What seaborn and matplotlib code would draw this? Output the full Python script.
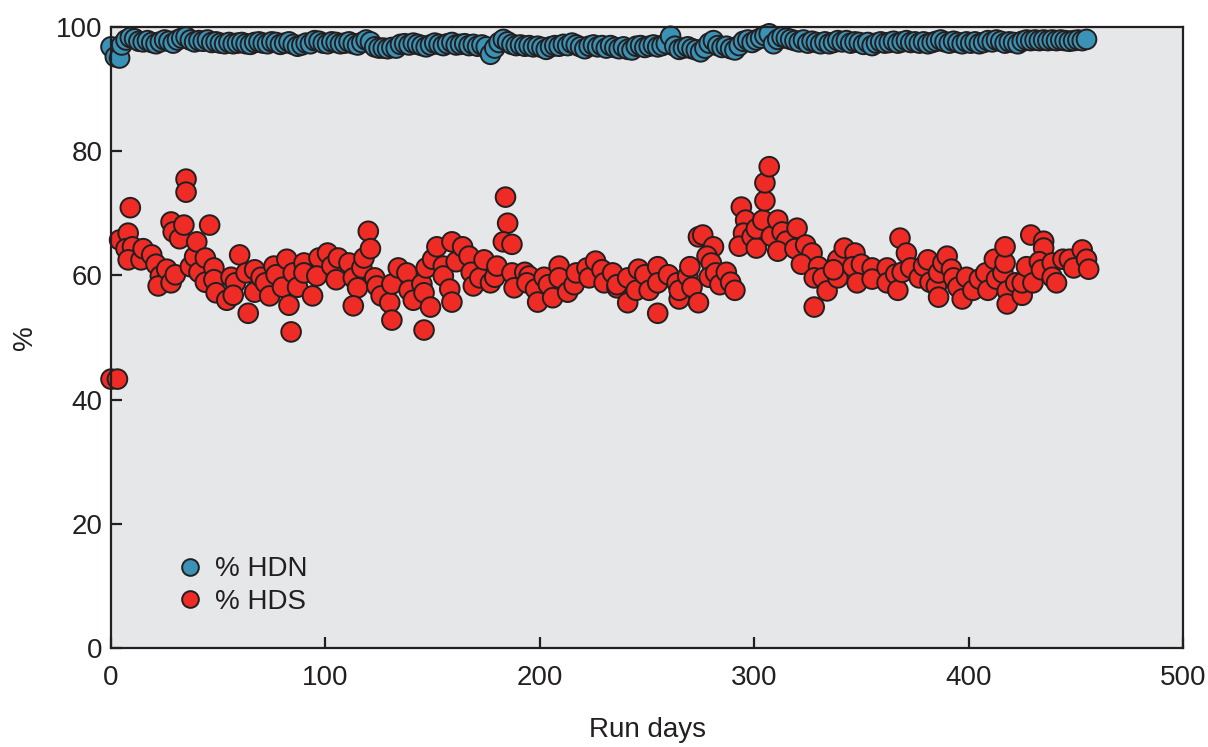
import numpy as np
import pandas as pd
import matplotlib
matplotlib.use("Agg")
import matplotlib.pyplot as plt
import seaborn as sns


# % HDS (run day, %)
hds_day = [0, 3,
           4, 8, 9, 7, 10, 8, 14, 15, 19, 21, 23, 22, 26, 28, 30, 28, 29, 32,
           34, 35, 35, 37, 39, 40, 41, 44, 44, 46, 48, 48, 49, 54, 56, 58, 57,
           60, 63, 64, 67, 67, 70, 72, 74, 76, 77, 80, 82, 83, 84, 85, 87,
           90, 90, 94, 97, 101, 96, 103, 106, 105, 111, 113, 115, 113, 117, 118,
           120, 121, 123, 124, 126, 130, 131, 131, 134, 138, 139, 141, 145, 146,
           146, 149, 147, 150, 152, 155, 155, 158, 159, 159, 161, 164, 167, 168,
           169, 172, 174, 177, 179, 180,
           184, 185, 183, 187, 187, 188, 193, 195, 194, 198, 199, 202, 204, 206,
           209, 209, 213, 216, 217, 222, 223, 226, 229, 230, 234, 236, 236, 241,
           241, 245, 246, 249, 251, 255, 255, 255, 260, 264, 265, 265, 269, 270,
           271, 274, 274,
           276, 281, 278, 280, 279, 282, 284, 287, 289, 291, 294, 296, 295, 293,
           299, 301, 301, 304, 305, 305, 307, 308, 311, 313, 315, 311, 319, 320,
           324, 327, 322, 330, 328, 332, 334, 328, 339, 339, 337, 342, 347, 346,
           350, 348, 355, 355, 362, 362, 366, 367, 368,
           371, 369, 373, 377, 379, 381, 382, 385, 386, 386, 388, 390, 392, 393,
           395, 397, 399, 402, 405, 408, 409, 412, 413, 416, 417, 417, 418, 418,
           422, 425, 425, 427, 430, 429, 435, 435, 433, 434, 439, 439, 441, 444,
           447, 449, 453, 455, 456]
hds_pct = [43.3, 43.3,
           65.7, 66.8, 70.9, 64.3, 64.6, 62.5, 62.5, 64.3, 63.3, 61.8, 59.9, 58.3,
           61.0, 58.8, 60.1, 68.6, 67.0, 65.9, 68.1, 75.5, 73.4, 61.4, 63.0, 65.4,
           60.5, 58.9, 62.8, 68.1, 61.2, 59.3, 57.2, 56.0, 59.7, 58.8, 56.8, 63.3,
           60.4, 53.9, 60.9, 57.3, 59.7, 58.8, 56.7, 61.5, 60.1, 58.1, 62.6, 55.2,
           50.9, 60.4, 58.1,
           62.0, 60.4, 56.7, 62.8, 63.6, 59.9, 61.5, 62.8, 59.3, 62.0, 59.6, 58.0,
           55.1, 61.2, 62.8, 67.1, 64.3, 59.6, 58.3, 56.7, 55.6, 52.8, 58.6, 61.2,
           60.4, 57.6, 56.0, 58.6, 57.2, 51.2, 54.9, 61.2, 62.6, 64.6, 61.5, 59.9,
           57.8, 55.7, 65.4, 62.2, 64.6, 63.1, 60.5, 58.3, 59.6, 62.5, 58.8, 59.7,
           61.5,
           72.6, 68.4, 65.4, 65.0, 60.4, 58.0, 60.5, 59.9, 58.8, 57.8, 55.7, 59.7,
           58.5, 56.4, 61.5, 59.6, 57.3, 58.5, 60.4, 61.2, 59.6, 62.3, 60.9, 58.8,
           60.4, 58.0, 58.5, 59.6, 55.6, 57.6, 61.0, 60.1, 57.6, 61.4, 58.8, 53.9,
           60.1, 58.8, 56.2, 57.6, 59.9, 61.4, 58.1, 55.6, 66.2,
           66.5, 64.6, 63.1, 62.0, 59.7, 60.4, 58.5, 60.5, 58.9, 57.6, 71.0, 68.9,
           66.8, 64.7, 66.2, 64.4, 67.5, 68.9, 72.0, 74.9, 77.5, 66.3, 68.9, 67.0,
           65.5, 63.9, 64.3, 67.6, 64.9, 63.6, 61.8, 61.4, 59.6, 59.6, 57.5, 54.9,
           59.6, 62.5, 60.9, 64.4, 63.6, 61.4, 61.8, 58.8, 61.2, 59.4, 61.2, 58.8,
           60.2, 57.6, 66.0,
           63.6, 60.5, 61.2, 59.6, 61.5, 62.5, 58.9, 58.3, 60.4, 56.5, 62.0, 63.1,
           61.0, 59.6, 58.1, 56.2, 59.7, 57.6, 59.4, 60.4, 57.6, 62.6, 59.4, 60.4,
           62.0, 64.6, 57.5, 55.4, 58.8, 56.8, 58.8, 61.4, 58.8, 66.5, 65.5, 64.4,
           62.2, 60.9, 62.0, 59.7, 58.8, 62.6, 62.6, 61.2, 64.1, 62.6, 61.0]

# % HDN (run day, %)
hdn_day = [0, 2, 4, 5, 7, 9, 11, 13, 15, 17, 19, 21, 23, 25, 27, 29, 31, 33, 35,
           37, 39, 41, 43, 45, 47, 49, 51, 53, 55, 57, 59, 61, 63, 65, 67, 69,
           71, 73, 75, 77, 79, 81, 83, 85, 87, 89, 91, 93, 95, 97, 99, 101, 103,
           105, 107, 109, 111, 113, 115, 117, 119, 121, 123, 125, 127, 129, 131,
           133, 135, 137, 139, 141, 143, 145, 147, 149, 151, 153, 155, 157, 159,
           161, 163, 165, 167, 169, 171, 173, 175, 177, 179, 181, 183, 185, 187,
           189, 191, 193, 195, 197, 199, 201, 203, 205, 207, 209, 211, 213, 215,
           217, 219, 221, 223, 225, 227, 229, 231, 233, 235, 237, 239, 241, 243,
           245, 247, 249, 251, 253, 255, 257, 259, 261, 263, 265, 267, 269, 271,
           273, 275, 277, 279, 281, 283, 285, 287, 289, 291, 293, 295, 297, 299,
           301, 303, 305, 307, 309, 311, 313, 315, 317, 319, 321, 323, 325, 327,
           329, 331, 333, 335, 337, 339, 341, 343, 345, 347, 349, 351, 353, 355,
           357, 359, 361, 363, 365, 367, 369, 371, 373, 375, 377, 379, 381, 383,
           385, 387, 389, 391, 393, 395, 397, 399, 401, 403, 405, 407, 409, 411,
           413, 415, 417, 419, 421, 423, 425, 427, 429, 431, 433, 435, 437, 439,
           441, 443, 445, 447, 449, 451, 453, 455]
hdn_pct = [96.8, 95.2, 95.0, 97.1, 97.9, 98.3, 98.1, 97.7, 97.6, 97.8, 97.5, 97.3,
           97.6, 97.9, 97.7, 97.4, 97.9, 98.2, 98.4, 97.9, 97.6, 97.8, 97.7, 97.9,
           97.5, 97.6, 97.4, 97.3, 97.5, 97.3, 97.4, 97.5, 97.3, 97.2, 97.5, 97.6,
           97.4, 97.3, 97.6, 97.5, 97.2, 97.4, 97.6, 97.2, 96.9, 97.1, 97.4, 97.3,
           97.8, 97.7, 97.4, 97.3, 97.6, 97.5, 97.3, 97.4, 97.6, 97.3, 97.1, 97.5,
           97.9, 97.6, 96.8, 96.6, 96.6, 96.5, 96.7, 96.6, 97.2, 97.3, 97.1, 97.4,
           97.2, 97.0, 96.8, 97.1, 97.4, 97.2, 97.0, 97.3, 97.5, 97.1, 97.2, 97.3,
           97.0, 97.2, 96.9, 97.1, 96.8, 95.6, 96.6, 97.5, 98.0, 97.6, 97.2, 97.0,
           97.1, 96.9, 97.0, 96.8, 96.9, 96.7, 96.4, 96.8, 97.0, 96.9, 97.2, 97.0,
           97.4, 97.1, 96.8, 96.5, 96.9, 97.1, 96.8, 97.0, 96.6, 97.0, 96.7, 96.5,
           96.8, 96.4, 96.3, 96.9, 97.0, 96.7, 96.9, 97.1, 96.8, 97.0, 97.3, 98.5,
           96.9, 96.4, 96.6, 96.8, 96.5, 96.3, 96.0, 96.6, 97.4, 97.8, 97.0, 96.7,
           96.9, 96.5, 96.3, 97.0, 97.7, 97.9, 97.5, 97.9, 98.2, 98.6, 98.9, 97.3,
           98.0, 98.4, 98.2, 98.0, 97.8, 97.6, 97.9, 97.4, 97.7, 97.5, 97.3, 97.6,
           97.3, 97.5, 97.8, 97.6, 97.8, 97.4, 97.6, 97.5, 97.2, 97.5, 97.0, 97.4,
           97.6, 97.4, 97.5, 97.7, 97.4, 97.6, 97.8, 97.5, 97.6, 97.4, 97.6, 97.3,
           97.5, 97.7, 97.9, 97.6, 97.4, 97.7, 97.5, 97.3, 97.6, 97.4, 97.6, 97.3,
           97.5, 97.8, 97.6, 97.9, 97.7, 97.4, 97.6, 97.5, 97.3, 97.7, 97.9, 97.8,
           97.9, 97.8, 97.9, 97.8, 97.9, 97.8, 97.9, 97.8, 97.7, 97.8, 97.9, 97.8,
           98.0]

series_names = ["% HDN", "% HDS"]
colors = {"% HDN": "#3a93b6", "% HDS": "#ee2b25"}

x_ticks = [0, 100, 200, 300, 400, 500]
y_ticks = [0, 20, 40, 60, 80, 100]


df = pd.concat([
    pd.DataFrame({"day": hdn_day, "pct": hdn_pct, "series": "% HDN"}),
    pd.DataFrame({"day": hds_day, "pct": hds_pct, "series": "% HDS"}),
], ignore_index=True)


sns.set_style("white")
plt.rcParams["font.family"] = ["Liberation Sans", "DejaVu Sans"]

fig = plt.figure(figsize=(12.08, 7.47), dpi=100)
ax = fig.add_axes([0.0919, 0.1325, 0.8874, 0.8314])
ax.set_facecolor("#e6e7e9")

sns.scatterplot(data=df, x="day", y="pct", hue="series", hue_order=series_names,
                palette=colors, s=200, edgecolor="#231f20", linewidth=1.4,
                alpha=1, clip_on=False, ax=ax)

ax.set_xlim(0, 500)
ax.set_ylim(0, 100)
ax.set_xticks(x_ticks)
ax.set_yticks(y_ticks)
ax.tick_params(direction="in", length=8, width=1.6, colors="#231f20",
               labelsize=20, labelcolor="#231f20", bottom=True, left=True)
ax.tick_params(axis="x", pad=12)
ax.tick_params(axis="y", pad=6)
for sp in ax.spines.values():
    sp.set_linewidth(1.6)
    sp.set_color("#231f20")

ax.set_xlabel("Run days", fontsize=20, color="#231f20", labelpad=19)
ax.set_ylabel("%", fontsize=20, color="#231f20", labelpad=13)

leg = ax.legend(loc="lower left", bbox_to_anchor=(0.048, 0.035), frameon=False,
                fontsize=20, handlelength=1.2, handletextpad=0.3,
                labelspacing=0.25, markerscale=0.85, borderaxespad=0)
for t in leg.get_texts():
    t.set_color("#231f20")

fig.savefig("out.png", dpi=100)
